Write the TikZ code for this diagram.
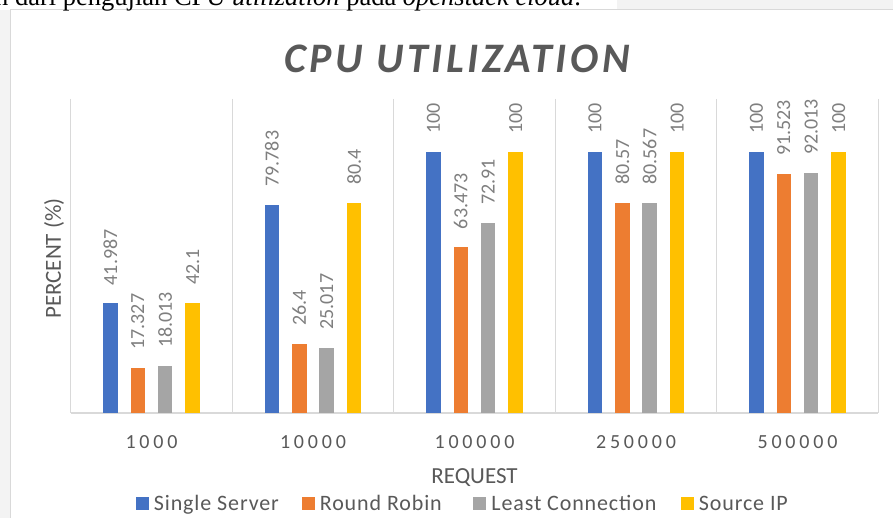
\documentclass[tikz,border=0pt]{standalone}
\usepackage{fontspec}
\setmainfont{Liberation Serif}
\newfontfamily\chartfont{Carlito}
\newfontfamily\tickfont{Carlito}[LetterSpace=19]
\newfontfamily\legendfont{Carlito}[LetterSpace=4]
\newfontfamily\titlefont{Carlito}[LetterSpace=8.5]
\usetikzlibrary{positioning}
\definecolor{ssblue}{HTML}{4472C4}
\definecolor{rrorange}{HTML}{ED7D31}
\definecolor{lcgray}{HTML}{A5A5A5}
\definecolor{sipyellow}{HTML}{FFC000}
\definecolor{textgray}{HTML}{595959}
\definecolor{labelgray}{HTML}{7F7F7F}
\definecolor{gridgray}{HTML}{D9D9D9}
\definecolor{pagegray}{HTML}{F3F3F3}
\begin{document}
\begin{tikzpicture}[x=1pt, y=-1pt, node distance={5pt},
    grid/.style = {draw=gridgray, line width=1.3pt},
    vlabel/.style = {rotate=90, anchor=west, inner sep=0pt, text=labelgray, font=\chartfont\fontsize{20}{24}\selectfont},
    tick/.style = {inner sep=0pt, text=textgray, font=\tickfont\fontsize{20}{24}\selectfont},
    axtitle/.style = {inner sep=0pt, text=textgray, font=\chartfont\fontsize{23}{27}\selectfont},
    legkey/.style = {minimum size=13pt, inner sep=0pt},
    legtext/.style = {inner sep=0pt, text height=14.2pt, text depth=0pt, text=textgray, font=\legendfont\fontsize{22}{26}\selectfont}]
    \clip (0,0) rectangle (893,518);
    % sfondo e cornice del grafico
    \fill[pagegray] (0,0) rectangle (893,518);
    \fill[white] (0,0) rectangle (617,10);
    \fill[white] (10,10) rectangle (893,518);
    \draw[gridgray, line width=1pt] (10,518) -- (10,10) -- (893,10);
    \node[anchor=base west, inner sep=0pt, font=\fontsize{26.5}{30}\selectfont] (cap) at (-5,6)
        {n dari pengujian CPU \textit{utilization} pada \textit{openstack cloud}.};

    \node[inner sep=0pt, text=textgray, font=\titlefont\bfseries\itshape\fontsize{42}{48}\selectfont] (title) at (457,58.5) {CPU UTILIZATION};

    % griglia
    \foreach \i in {0,...,5}
        \draw[grid] (70.7+161.5*\i, 99) -- (70.7+161.5*\i, 413);
    \draw[grid] (70.7,413) -- (878,413);

    % barre ed etichette
    \foreach \c/\req/\va/\vb/\vc/\vd in {0/1000/41.987/17.327/18.013/42.1, 1/10000/79.783/26.4/25.017/80.4,
        2/100000/100/63.473/72.91/100, 3/250000/100/80.57/80.567/100, 4/500000/100/91.523/92.013/100}{
        \node[tick] (r\c) at (151.5+161.5*\c, 442.5) {\req};
        \foreach \s/\v/\col in {0/\va/ssblue, 1/\vb/rrorange, 2/\vc/lcgray, 3/\vd/sipyellow}{
            \pgfmathsetmacro{\bx}{151.5+161.5*\c+27.4*(\s-1.5)}
            \pgfmathsetmacro{\by}{413-2.61*\v}
            \fill[\col] (\bx-7.25, 413) rectangle (\bx+7.25, \by);
            \node[vlabel] (v\c\s) at (\bx, \by-18) {\v};
        }
    }

    \node[axtitle] (xt) at (474.5,478) {REQUEST};
    \node[axtitle, rotate=90] (yt) at (54,258.5) {PERCENT (\%)};

    % legenda
    \node[legkey, fill=ssblue] (k0) at (142,503) {};
    \node[legtext, right=of k0] (l0) {Single Server};
    \node[legkey, fill=rrorange] (k1) at (308,503) {};
    \node[legtext, right=of k1] (l1) {Round Robin};
    \node[legkey, fill=lcgray] (k2) at (479.5,503) {};
    \node[legtext, right=of k2] (l2) {Least Connection};
    \node[legkey, fill=sipyellow] (k3) at (687,503) {};
    \node[legtext, right=of k3] (l3) {Source IP};
\end{tikzpicture}
\end{document}
